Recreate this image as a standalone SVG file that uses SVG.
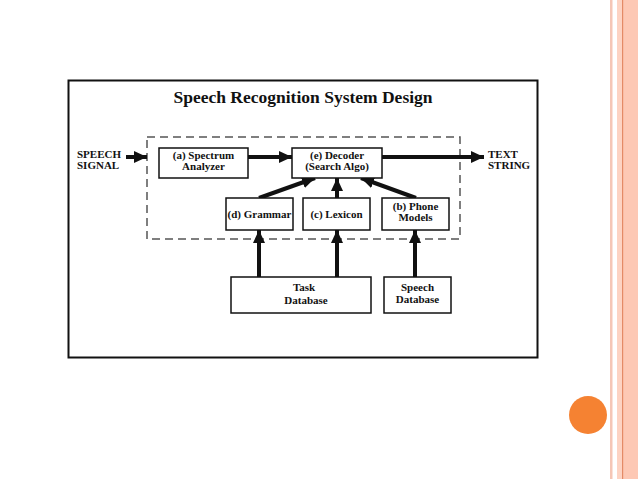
<svg xmlns="http://www.w3.org/2000/svg" width="638" height="479" viewBox="0 0 638 479">
<style>
.box{fill:#fff;stroke:#111;stroke-width:1.5}
.t{font-family:"Liberation Serif","Times New Roman",serif;font-weight:bold;font-size:11px;fill:#111;text-anchor:middle}
.lbl{font-family:"Liberation Serif","Times New Roman",serif;font-weight:bold;font-size:11px;fill:#111}
.arr{stroke:#111;stroke-width:4;fill:none;marker-end:url(#ah)}
</style>
<defs>
<marker id="ah" markerUnits="userSpaceOnUse" markerWidth="14" markerHeight="12" refX="13" refY="6" orient="auto">
<path d="M0,0 L13,6 L0,12 Z" fill="#111"/>
</marker>
</defs>
<rect width="638" height="479" fill="#fff"/>
<g id="decor">
<rect x="610" y="0" width="2.5" height="479" fill="#f5c6b6"/>
<rect x="617" y="0" width="21" height="479" fill="#fdc8b4"/>
<rect x="617" y="0" width="5" height="479" fill="#fdd3c3"/>
<rect x="622" y="0" width="1.2" height="479" fill="#e48a66"/>
<circle cx="588" cy="415" r="19" fill="#f58232"/>
</g>
<g id="frame">
<rect x="68.5" y="80.5" width="469" height="277" fill="#fff" stroke="#111" stroke-width="2"/>
<text x="303" y="103" style="font-family:'Liberation Serif','Times New Roman',serif;font-weight:bold;font-size:17.5px;fill:#111;text-anchor:middle">Speech Recognition System Design</text>
<rect id="system" x="147" y="137" width="313" height="102" fill="none" stroke="#555" stroke-width="1.5" stroke-dasharray="8,5"/>
</g>
<g id="connectors">
<line class="arr" x1="126" y1="157" x2="147" y2="157"/>
<line class="arr" x1="248" y1="157" x2="292" y2="157"/>
<line class="arr" x1="382" y1="157" x2="484" y2="157"/>
<line class="arr" x1="259" y1="198" x2="315" y2="178"/>
<line class="arr" x1="337" y1="198" x2="337" y2="178"/>
<line class="arr" x1="416" y1="198" x2="361" y2="178"/>
<line class="arr" x1="259" y1="277" x2="259" y2="230"/>
<line class="arr" x1="337" y1="277" x2="337" y2="230"/>
<line class="arr" x1="415" y1="277" x2="415" y2="230"/>
</g>
<g id="speech-signal">
<text class="lbl" x="77" y="158">SPEECH</text>
<text class="lbl" x="77" y="169">SIGNAL</text>
</g>
<g id="text-string">
<text class="lbl" x="488" y="158">TEXT</text>
<text class="lbl" x="488" y="169">STRING</text>
</g>
<g id="spectrum">
<rect class="box" x="159" y="148" width="89" height="30"/>
<text class="t" x="203.5" y="159">(a) Spectrum</text>
<text class="t" x="203.5" y="170">Analyzer</text>
</g>
<g id="decoder">
<rect class="box" x="292" y="148" width="90" height="30"/>
<text class="t" x="337" y="159">(e) Decoder</text>
<text class="t" x="337" y="170">(Search Algo)</text>
</g>
<g id="grammar">
<rect class="box" x="226" y="198" width="67" height="32"/>
<text class="t" x="259.5" y="218">(d) Grammar</text>
</g>
<g id="lexicon">
<rect class="box" x="303" y="198" width="67" height="32"/>
<text class="t" x="336.5" y="218">(c) Lexicon</text>
</g>
<g id="phone">
<rect class="box" x="382" y="198" width="67" height="32"/>
<text class="t" x="415.5" y="210">(b) Phone</text>
<text class="t" x="415.5" y="221">Models</text>
</g>
<g id="task-db">
<rect class="box" x="231" y="277" width="140" height="36"/>
<text class="t" x="304" y="291">Task</text>
<text class="t" x="306" y="304">Database</text>
</g>
<g id="speech-db">
<rect class="box" x="384" y="277" width="67" height="36"/>
<text class="t" x="417.5" y="291">Speech</text>
<text class="t" x="417.5" y="303">Database</text>
</g>
</svg>
